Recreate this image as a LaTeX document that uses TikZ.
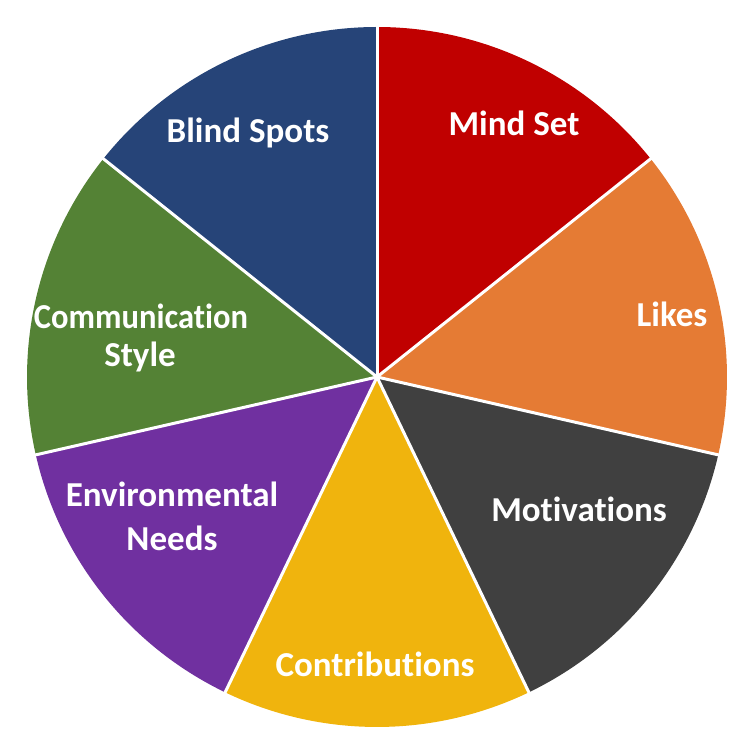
\documentclass[tikz,border=0pt]{standalone}
\usepackage{fontspec}
\usepackage{graphicx}
\setmainfont{Carlito}[Ligatures=NoCommon]
\definecolor{cRed}{HTML}{C00000}
\definecolor{cOrange}{HTML}{E57B34}
\definecolor{cGray}{HTML}{404040}
\definecolor{cGold}{HTML}{F0B40D}
\definecolor{cPurple}{HTML}{7030A0}
\definecolor{cGreen}{HTML}{548235}
\definecolor{cNavy}{HTML}{264478}
\tikzset{
  lbl/.style={anchor=base, text=white, inner sep=0pt, font=\fontsize{35bp}{40bp}\selectfont\bfseries},
  sep/.style={draw=white, line width=3bp, line cap=round}
}
\begin{document}
\begin{tikzpicture}[x=1bp,y=1bp]
\useasboundingbox (0,0) rectangle (755,754);
\coordinate (O) at (377,377);
\def\R{350}
% slices
\fill[cRed]    (O) -- ++(90:\R)      arc[start angle=90,      end angle=38.571,   radius=\R] -- cycle;
\fill[cOrange] (O) -- ++(38.571:\R)  arc[start angle=38.571,  end angle=-12.857,  radius=\R] -- cycle;
\fill[cGray]   (O) -- ++(-12.857:\R) arc[start angle=-12.857, end angle=-64.286,  radius=\R] -- cycle;
\fill[cGold]   (O) -- ++(-64.286:\R) arc[start angle=-64.286, end angle=-115.714, radius=\R] -- cycle;
\fill[cPurple] (O) -- ++(-115.714:\R) arc[start angle=-115.714, end angle=-167.143, radius=\R] -- cycle;
\fill[cGreen]  (O) -- ++(-167.143:\R) arc[start angle=-167.143, end angle=-218.571, radius=\R] -- cycle;
\fill[cNavy]   (O) -- ++(141.429:\R) arc[start angle=141.429, end angle=90,       radius=\R] -- cycle;
% white separators
\foreach \a in {90,38.571,-12.857,-64.286,-115.714,-167.143,141.429}
  \draw[sep] (O) -- ++(\a:\R+2);
% labels
\node[lbl] (mind) at (514,618) {Mind Set};
\node[lbl] (blind) at (248,611) {Blind Spots};
\node[lbl] (likes) at (672,427) {Likes};
\node[lbl] (motiv) at (579,232) {Motivations};
\node[lbl] (contr) at (375,77) {Contributions};
\node[lbl] (comm1) at (141,425) {\scalebox{0.93}[1]{Communication}};
\node[lbl] (comm2) at (140,387) {Style};
\node[lbl] (env1) at (172,247) {Environmental};
\node[lbl] (env2) at (172,203) {Needs};
\end{tikzpicture}
\end{document}
